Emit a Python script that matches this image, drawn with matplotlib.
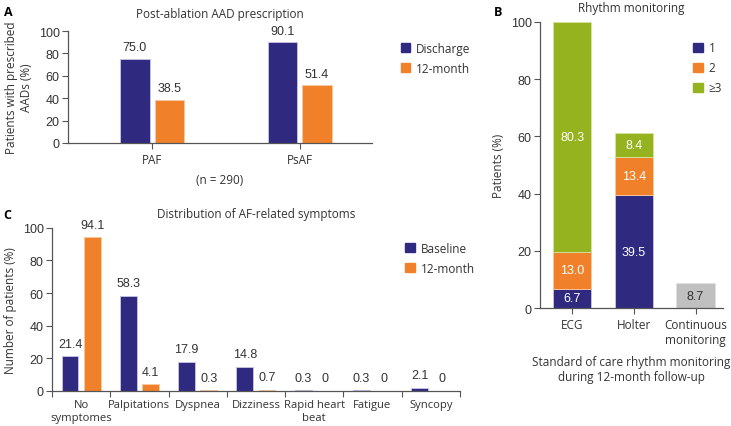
import numpy as np
import matplotlib
matplotlib.use('Agg')
from matplotlib import pyplot as plt
from matplotlib.patches import Patch

plt.rcParams['font.family'] = ['Open Sans', 'DejaVu Sans']
plt.rcParams['font.size'] = 8.5

NAVY = '#2f2a80'
ORANGE = '#f0812a'
GREEN = '#95b31f'
GRAY = '#c0c0c0'
TXT = '#333333'
NUM = 'Liberation Sans'

# panel A
a_cats = ['PAF', 'PsAF']
a_discharge = [75.0, 90.1]
a_12month = [38.5, 51.4]

# panel B
b_cats = ['ECG', 'Holter', 'Continuous\nmonitoring']
b_one = [6.7, 39.5, 0]
b_two = [13.0, 13.4, 0]
b_three = [80.3, 8.4, 0]
b_cont = [0, 0, 8.7]

# panel C
c_cats = ['No\nsymptomes', 'Palpitations', 'Dyspnea', 'Dizziness',
          'Rapid heart\nbeat', 'Fatigue', 'Syncopy']
c_baseline = [21.4, 58.3, 17.9, 14.8, 0.3, 0.3, 2.1]
c_12month = [94.1, 4.1, 0.3, 0.7, 0, 0, 0]

fig = plt.figure(figsize=(7.31, 4.27), dpi=100)


def style(ax):
    for s in ['top', 'right']:
        ax.spines[s].set_visible(False)
    for s in ['left', 'bottom']:
        ax.spines[s].set_color('#555555')
        ax.spines[s].set_linewidth(0.9)
    ax.set_ylim(0, 100)
    ax.set_yticks(range(0, 101, 20))
    ax.tick_params(axis='y', length=4, color='#555555', labelsize=9, labelcolor=TXT, pad=2)
    for t in ax.get_yticklabels():
        t.set_fontfamily(NUM)
    ax.tick_params(axis='x', length=4, color='#555555', labelcolor=TXT)


def lab(v):
    return '0' if v == 0 else f'{v:.1f}'


# ---------- A ----------
axA = fig.add_axes([0.093, 0.6628, 0.416, 0.262])
x = np.arange(len(a_cats))
w = 0.2
off = 0.117
axA.bar(x - off, a_discharge, w, color=NAVY, edgecolor='#c9c6e6', linewidth=0.6)
axA.bar(x + off, a_12month, w, color=ORANGE, edgecolor='#f7c9a0', linewidth=0.6)
for i in x:
    axA.text(i - off, a_discharge[i] + 5, lab(a_discharge[i]), ha='center', va='bottom',
             fontsize=9, color=TXT, family=NUM)
    axA.text(i + off, a_12month[i] + 5, lab(a_12month[i]), ha='center', va='bottom',
             fontsize=9, color=TXT, family=NUM)
axA.set_xlim(-0.57, 1.49)
style(axA)
axA.set_xticks(x)
axA.set_xticklabels(a_cats)
axA.set_ylabel('Patients with prescribed\nAADs (%)', color=TXT, fontsize=8.5, labelpad=4)
axA.set_title('Post-ablation AAD prescription', color=TXT, fontsize=8.5, pad=10)
axA.text(0.5, -0.36, '(n = 290)', transform=axA.transAxes, ha='center', color=TXT)
axA.legend(handles=[Patch(color=NAVY, label='Discharge'), Patch(color=ORANGE, label='12-month')],
           frameon=False, loc='upper left', bbox_to_anchor=(1.06, 1.0),
           handlelength=0.8, handleheight=0.8, handletextpad=0.5, labelspacing=0.6,
           labelcolor=TXT, fontsize=8.5)
fig.text(0.005, 0.985, 'A', fontsize=9, fontweight='bold', va='top')

# ---------- B ----------
axB = fig.add_axes([0.7387, 0.2763, 0.25, 0.67])
xb = np.arange(len(b_cats))
wb = 0.62
one = np.array(b_one)
two = np.array(b_two)
three = np.array(b_three)
axB.bar(xb, one, wb, color=NAVY, edgecolor='#c9c6e6', linewidth=0.6)
axB.bar(xb, two, wb, bottom=one, color=ORANGE, edgecolor='#f7c9a0', linewidth=0.6)
axB.bar(xb, three, wb, bottom=one + two, color=GREEN, edgecolor='#d5e3a0', linewidth=0.6)
axB.bar(xb, b_cont, wb, color=GRAY, edgecolor='#e0e0e0', linewidth=0.6)
for i in xb:
    base = 0
    for vals in (one, two, three):
        if vals[i] > 0:
            axB.text(i, base + vals[i] / 2, lab(vals[i]), ha='center', va='center',
                     color='white', fontsize=9, family=NUM)
        base += vals[i]
    if b_cont[i] > 0:
        axB.text(i, b_cont[i] / 2, lab(b_cont[i]), ha='center', va='center',
                 color=TXT, fontsize=9, family=NUM)
axB.set_xlim(-0.52, 2.44)
style(axB)
axB.set_xticks(xb)
axB.set_xticklabels(b_cats)
axB.set_ylabel('Patients (%)', color=TXT, fontsize=8.5, labelpad=4)
axB.set_xlabel('Standard of care rhythm monitoring\nduring 12-month follow-up', color=TXT,
               fontsize=8.5, labelpad=6)
axB.set_title('Rhythm monitoring', color=TXT, fontsize=8.5, pad=8)
axB.legend(handles=[Patch(color=NAVY, label='1'), Patch(color=ORANGE, label='2'),
                    Patch(color=GREEN, label='≥3')],
           frameon=False, loc='upper left', bbox_to_anchor=(0.78, 0.97),
           handlelength=0.8, handleheight=0.8, handletextpad=0.5, labelspacing=0.6,
           labelcolor=TXT, fontsize=8.5)
fig.text(0.675, 0.985, 'B', fontsize=9, fontweight='bold', va='top')

# ---------- C ----------
axC = fig.add_axes([0.0711, 0.082, 0.558, 0.382])
xc = np.arange(len(c_cats))
wc = 0.29
oc = 0.19
axC.bar(xc - oc, c_baseline, wc, color=NAVY, edgecolor='#c9c6e6', linewidth=0.6)
axC.bar(xc + oc, c_12month, wc, color=ORANGE, edgecolor='#f7c9a0', linewidth=0.6)
for i in xc:
    axC.text(i - oc, c_baseline[i] + 4, lab(c_baseline[i]), ha='center', va='bottom',
             fontsize=9, color=TXT, family=NUM)
    axC.text(i + oc, c_12month[i] + 4, lab(c_12month[i]), ha='center', va='bottom',
             fontsize=9, color=TXT, family=NUM)
axC.set_xlim(-0.5, len(c_cats) - 0.5)
style(axC)
axC.set_xticks(np.arange(len(c_cats) + 1) - 0.5)
axC.set_xticklabels([])
axC.set_xticks(xc, minor=True)
axC.set_xticklabels(c_cats, minor=True, fontsize=8.1)
axC.tick_params(axis='x', which='minor', length=0, labelcolor=TXT, pad=6)
axC.set_ylabel('Number of patients (%)', color=TXT, fontsize=8.5, labelpad=4)
axC.set_title('Distribution of AF-related symptoms', color=TXT, fontsize=8.5, pad=8)
axC.legend(handles=[Patch(color=NAVY, label='Baseline'), Patch(color=ORANGE, label='12-month')],
           frameon=False, loc='upper left', bbox_to_anchor=(0.84, 0.98),
           handlelength=0.8, handleheight=0.8, handletextpad=0.5, labelspacing=0.6,
           labelcolor=TXT, fontsize=8.5)
fig.text(0.005, 0.51, 'C', fontsize=9, fontweight='bold', va='top')

fig.savefig('out.png', dpi=100)
